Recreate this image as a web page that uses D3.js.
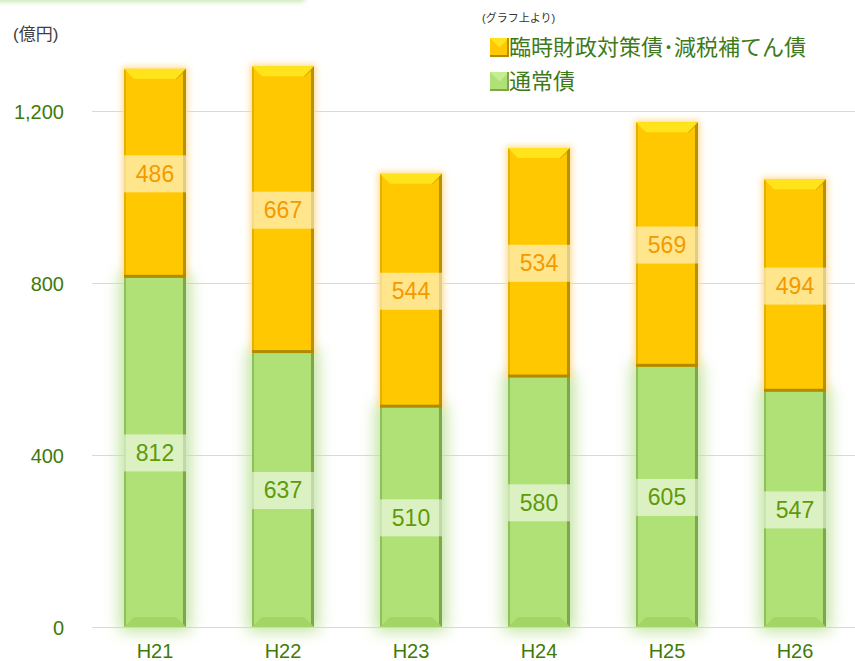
<!DOCTYPE html>
<html><head><meta charset="utf-8">
<script src="https://cdn.jsdelivr.net/npm/d3@7"></script>
<style>body{margin:0;background:#fff}svg{display:block}text{font-family:"Liberation Sans",Arial,"Noto Sans CJK JP",sans-serif}</style>
</head><body><svg id="c" width="855" height="661"></svg>
<script>
const categories = ["H21","H22","H23","H24","H25","H26"];
const regular = [812,637,510,580,605,547];          // 通常債
const special = [486,667,544,534,569,494];          // 臨時財政対策債・減税補てん債
const yTicks = [0,400,800,1200];
const seriesNames = ["臨時財政対策債･減税補てん債","通常債"];

const svg = d3.select("#c");
const defs = svg.append("defs");
const x = d3.scaleBand().domain(categories).range([91,859]).paddingInner(0.516).paddingOuter(0.258);
const y = d3.scaleLinear().domain([0,1200]).range([627,111]);

function glow(id,color,sd,op,dil){
  const f=defs.append("filter").attr("id",id).attr("x","-60%").attr("y","-30%").attr("width","220%").attr("height","160%");
  f.append("feFlood").attr("flood-color",color).attr("flood-opacity",op).attr("result","c");
  f.append("feComposite").attr("in","c").attr("in2","SourceAlpha").attr("operator","in").attr("result","s");
  f.append("feMorphology").attr("in","s").attr("operator","dilate").attr("radius",dil).attr("result","d");
  f.append("feGaussianBlur").attr("in","d").attr("stdDeviation",sd);
}
glow("gy","#ffd98a",3,0.9,2);
glow("gg","#bde29a",8,1,4);
const tb=defs.append("filter").attr("id","tb").attr("x","-10%").attr("y","-200%").attr("width","120%").attr("height","500%");
tb.append("feGaussianBlur").attr("stdDeviation",2.5);

// top-left decorative glow band
svg.append("rect").attr("x",-10).attr("y",-6).attr("width",315).attr("height",8).attr("rx",4)
  .attr("fill","#c6e8b4").attr("filter","url(#tb)");

// gridlines
svg.append("g").selectAll("line").data(yTicks).join("line")
  .attr("x1",92).attr("x2",855).attr("y1",d=>Math.round(y(d))+0.5).attr("y2",d=>Math.round(y(d))+0.5)
  .attr("stroke","#d9d9d9").attr("stroke-width",1);

// y axis labels
const yAxis = d3.axisLeft(y).tickValues(yTicks).tickSize(0).tickPadding(0).tickFormat(d3.format(","));
const ya = svg.append("g").attr("transform","translate(64,0)").call(yAxis);
ya.select(".domain").remove();
ya.selectAll("text").attr("font-size",20).attr("fill","#3f7a0a").attr("font-family","Liberation Sans, Arial, sans-serif").attr("dy","0.35em");

// x axis labels
const xAxis = d3.axisBottom(x).tickSize(0).tickPadding(0);
const xa = svg.append("g").attr("transform","translate(0,640)").call(xAxis);
xa.select(".domain").remove();
xa.selectAll("text").attr("font-size",20).attr("fill","#3f7a0a").attr("font-family","Liberation Sans, Arial, sans-serif").attr("dy","0.9em");

// glows
const data = categories.map((c,i)=>({c,r:regular[i],s:special[i]}));
const bw = x.bandwidth();
svg.append("g").selectAll("rect").data(data).join("rect")
  .attr("x",d=>x(d.c)).attr("width",bw).attr("y",d=>y(d.r)).attr("height",d=>y(0)-y(d.r))
  .attr("fill","#000").attr("filter","url(#gg)");
svg.append("g").selectAll("rect").data(data).join("rect")
  .attr("x",d=>x(d.c)).attr("width",bw).attr("y",d=>y(d.r+d.s)).attr("height",d=>y(d.r)-y(d.r+d.s))
  .attr("fill","#000").attr("filter","url(#gy)");

// bevelled segment
function seg(g,x0,y0,w,h,pal,topBevel,baseBevel){
  const b=10;
  g.append("rect").attr("x",x0).attr("y",y0).attr("width",w).attr("height",h).attr("fill",pal.main);
  g.append("rect").attr("x",x0).attr("y",y0).attr("width",2).attr("height",h).attr("fill",pal.left);
  g.append("rect").attr("x",x0+w-3).attr("y",y0).attr("width",3).attr("height",h).attr("fill",pal.right);
  if(topBevel){
    g.append("path").attr("d",`M${x0},${y0}L${x0+w},${y0}L${x0+w-b},${y0+b}L${x0+b},${y0+b}Z`).attr("fill",pal.top);
    g.append("path").attr("d",`M${x0+w},${y0}L${x0+w-b},${y0+b}L${x0+w-b},${y0+b+1}L${x0+w},${y0+2}Z`).attr("fill",pal.right).attr("opacity",0.5);
  }
  if(baseBevel){
    g.append("path").attr("d",`M${x0},${y0+h}L${x0+w},${y0+h}L${x0+w-b},${y0+h-b}L${x0+b},${y0+h-b}Z`).attr("fill",pal.base);
  } else {
    g.append("rect").attr("x",x0).attr("y",y0+h-3).attr("width",w).attr("height",3).attr("fill",pal.bottom);
  }
}
const yellow={main:"#ffc800",left:"#e6b000",right:"#b89000",top:"#ffe41c",bottom:"#b08a00",base:"#e0b000"};
const green={main:"#b0e176",left:"#8fbf5a",right:"#7fa54d",top:"#c4ee90",bottom:"#7fa54d",base:"#a2d466"};
const bars = svg.append("g");
data.forEach(d=>{
  const g=bars.append("g");
  seg(g,x(d.c),y(d.r),bw,y(0)-y(d.r),green,false,true);
  seg(g,x(d.c),y(d.r+d.s),bw,y(d.r)-y(d.r+d.s),yellow,true,false);
});

// labels
function label(cx,cy,val,col){
  svg.append("rect").attr("x",cx-bw/2).attr("y",cy-18).attr("width",bw).attr("height",37).attr("fill","#fff").attr("opacity",0.55);
  svg.append("text").attr("x",cx).attr("y",cy).attr("dy","0.36em").attr("text-anchor","middle")
    .attr("font-size",23).attr("fill",col).attr("font-family","Liberation Sans, Arial, sans-serif").text(val);
}
data.forEach(d=>{
  const cx=x(d.c)+bw/2;
  label(cx,(y(0)+y(d.r))/2,d.r,"#5f9a0a");
  label(cx,(y(d.r)+y(d.r+d.s))/2,d.s,"#f39a00");
});

// unit
svg.append("text").attr("x",13).attr("y",40).attr("font-size",17).attr("fill","#404040")
  .attr("font-family","Noto Sans CJK JP, sans-serif").text("(億円)");
// legend
svg.append("text").attr("x",482).attr("y",22).attr("font-size",11).attr("fill","#333")
  .attr("font-family","Noto Sans CJK JP, sans-serif").text("(グラフ上より)");
const leg=[{n:seriesNames[0],p:yellow,y:38},{n:seriesNames[1],p:green,y:72}];
leg.forEach(l=>{
  const g=svg.append("g");
  const s=19;
  g.append("rect").attr("x",490).attr("y",l.y).attr("width",s).attr("height",s).attr("fill",l.p.main);
  g.append("path").attr("d",`M490,${l.y}L${490+s},${l.y}L${490+s/2},${l.y+s/2}Z`).attr("fill",l.p.top);
  g.append("rect").attr("x",490+s-2).attr("y",l.y).attr("width",2).attr("height",s).attr("fill",l.p.right);
  g.append("rect").attr("x",490).attr("y",l.y+s-2).attr("width",s).attr("height",2).attr("fill",l.p.bottom);
  g.append("text").attr("x",509).attr("y",l.y+17).attr("font-size",22).attr("fill","#3f7a1a")
    .attr("font-family","Noto Sans CJK JP, sans-serif").text(l.n);
});
</script></body></html>
